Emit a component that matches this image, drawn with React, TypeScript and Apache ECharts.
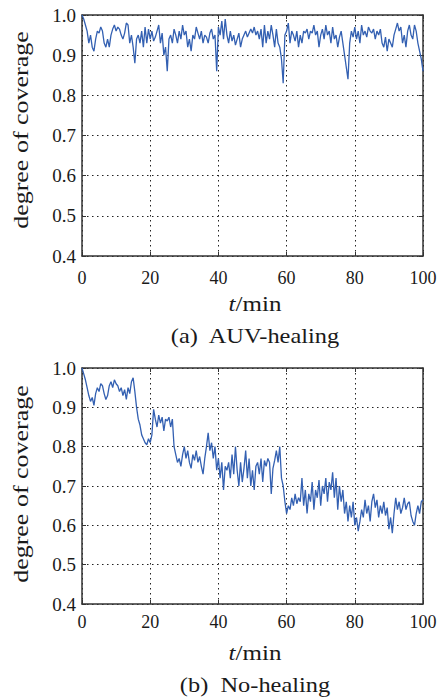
import React, { useEffect, useRef } from "react";
import * as echarts from "echarts";

const xTicks = [0, 20, 40, 60, 80, 100];
const yTicks = [0.4, 0.5, 0.6, 0.7, 0.8, 0.9, 1.0];
const stepMin = 0.5;

const auvHealing = [
  1.0, 0.99, 0.975, 0.96, 0.93, 0.95, 0.92, 0.91, 0.94, 0.96,
  0.955, 0.97, 0.96, 0.93, 0.92, 0.94, 0.92, 0.95, 0.965, 0.975,
  0.96, 0.97, 0.965, 0.95, 0.94, 0.955, 0.98, 0.975, 0.93, 0.95,
  0.92, 0.88, 0.94, 0.95, 0.93, 0.96, 0.92, 0.97, 0.93, 0.965,
  0.94, 0.96, 0.935, 0.945, 0.96, 0.975, 0.93, 0.955, 0.90, 0.92,
  0.86, 0.94, 0.95, 0.93, 0.965, 0.95, 0.93, 0.96, 0.94, 0.975,
  0.95, 0.96, 0.92, 0.94, 0.91, 0.95, 0.94, 0.97, 0.955, 0.94,
  0.96, 0.93, 0.95, 0.945, 0.93, 0.955, 0.965, 0.94, 0.95, 0.86,
  0.97, 0.95, 0.985, 0.94, 0.99, 0.95, 0.93, 0.96, 0.935, 0.95,
  0.925, 0.94, 0.955, 0.92, 0.94, 0.95, 0.96, 0.945, 0.955, 0.965,
  0.955, 0.97, 0.95, 0.96, 0.94, 0.965, 0.92, 0.975, 0.93, 0.96,
  0.94, 0.975, 0.95, 0.92, 0.965, 0.93, 0.92, 0.89, 0.83, 0.95,
  0.96, 0.98, 0.93, 0.96, 0.95, 0.935, 0.96, 0.92, 0.95, 0.93,
  0.96, 0.955, 0.965, 0.94, 0.96, 0.955, 0.975, 0.95, 0.96, 0.92,
  0.95, 0.965, 0.94, 0.975, 0.95, 0.96, 0.93, 0.97, 0.94, 0.95,
  0.92, 0.945, 0.96, 0.93, 0.90, 0.87, 0.84, 0.93, 0.96, 0.945,
  0.97, 0.94, 0.96, 0.93, 0.975, 0.95, 0.96, 0.945, 0.97, 0.96,
  0.955, 0.965, 0.94, 0.96, 0.95, 0.965, 0.93, 0.92, 0.945, 0.91,
  0.94, 0.93, 0.92, 0.95, 0.965, 0.98, 0.96, 0.97, 0.93, 0.95,
  0.92, 0.96, 0.975, 0.95, 0.94, 0.975, 0.96, 0.93, 0.91, 0.89,
  0.86,
];

const noHealing = [
  1.0, 0.985, 0.97, 0.95, 0.93, 0.915, 0.925, 0.905, 0.935, 0.95,
  0.94, 0.96, 0.955, 0.935, 0.92, 0.93, 0.955, 0.965, 0.95, 0.97,
  0.96, 0.955, 0.94, 0.95, 0.93, 0.945, 0.92, 0.95, 0.935, 0.965,
  0.975, 0.94, 0.90, 0.87, 0.855, 0.83, 0.82, 0.81, 0.805, 0.82,
  0.81, 0.83, 0.895, 0.87, 0.85, 0.88, 0.86, 0.875, 0.84, 0.87,
  0.865, 0.875, 0.85, 0.87, 0.80, 0.78, 0.76, 0.77, 0.75, 0.78,
  0.80, 0.77, 0.79, 0.76, 0.745, 0.78, 0.765, 0.79, 0.76, 0.775,
  0.75, 0.73, 0.77, 0.80, 0.835, 0.79, 0.81, 0.77, 0.80, 0.74,
  0.77, 0.72, 0.76, 0.69, 0.75, 0.74, 0.76, 0.72, 0.78, 0.73,
  0.80, 0.74, 0.70, 0.76, 0.71, 0.745, 0.79, 0.72, 0.77, 0.70,
  0.74, 0.69, 0.75, 0.76, 0.73, 0.77, 0.71, 0.765, 0.75, 0.77,
  0.76, 0.68, 0.745, 0.765, 0.79, 0.76, 0.80, 0.72, 0.70, 0.66,
  0.63, 0.65, 0.64, 0.67, 0.65, 0.68, 0.655, 0.67, 0.66, 0.72,
  0.65, 0.69, 0.63, 0.68, 0.66, 0.71, 0.64, 0.69, 0.67, 0.715,
  0.65, 0.70, 0.68, 0.72, 0.66, 0.71, 0.69, 0.735, 0.67, 0.72,
  0.64, 0.70, 0.66, 0.69, 0.63, 0.66, 0.61, 0.65, 0.62, 0.66,
  0.60, 0.62, 0.585, 0.61, 0.64, 0.62, 0.665, 0.63, 0.65, 0.61,
  0.66, 0.68, 0.645, 0.665, 0.62, 0.65, 0.63, 0.66, 0.625, 0.645,
  0.59, 0.62, 0.58, 0.63, 0.67, 0.64, 0.66, 0.63, 0.645, 0.67,
  0.64, 0.655, 0.66, 0.625, 0.61, 0.60, 0.63, 0.65, 0.63, 0.66,
  0.665,
];

const panelTitles = ["(a)  AUV-healing", "(b)  No-healing"];
const yName = "degree of coverage";

const FONT = "serif";
const LINE_COLOR = "#3360b2";
const FRAME = "#333";

export default function App() {
  const ref = useRef<HTMLDivElement>(null);
  useEffect(() => {
    if (!ref.current) return;
    const chart = echarts.init(ref.current, undefined, { renderer: "svg" });

    const grids = [
      { left: 82, right: 19, top: 15, height: 241 },
      { left: 82, right: 19, top: 368, height: 236 },
    ];
    const labelMargins = [13, 9];

    const xAxes: any[] = [];
    const yAxes: any[] = [];
    grids.forEach((_, g) => {
      const base = {
        gridIndex: g,
        type: "value",
        min: 0,
        max: 100,
        interval: 20,
        axisLine: { show: true, onZero: false, lineStyle: { color: FRAME, width: 1.5 } },
        axisTick: { show: true, inside: true, length: 4, lineStyle: { color: FRAME } },
      };
      xAxes.push({
        ...base,
        position: "bottom",
        axisLabel: {
          show: true,
          margin: labelMargins[g],
          fontFamily: FONT,
          fontSize: 18,
          color: "#1a1a1a",
          formatter: (v: number) => (xTicks.includes(v) ? String(v) : ""),
        },
        splitLine: {
          show: true,
          lineStyle: { color: "#222", type: [1.5, 3.5], width: 1 },
        },
      });
      xAxes.push({
        ...base,
        position: "top",
        axisLabel: { show: false },
        splitLine: { show: false },
      });
      const ybase = {
        gridIndex: g,
        type: "value",
        min: 0.4,
        max: 1.0,
        interval: 0.1,
        axisLine: { show: true, onZero: false, lineStyle: { color: FRAME, width: 1.5 } },
        axisTick: { show: true, inside: true, length: 4, lineStyle: { color: FRAME } },
      };
      yAxes.push({
        ...ybase,
        position: "left",
        axisLabel: {
          show: true,
          margin: 6,
          fontFamily: FONT,
          fontSize: 19,
          color: "#1a1a1a",
          formatter: (v: number) => {
            const t = yTicks.find((y) => Math.abs(y - v) < 1e-6);
            return t !== undefined ? t.toFixed(1) : "";
          },
        },
        splitLine: {
          show: true,
          lineStyle: { color: "#222", type: [1.5, 3.5], width: 1 },
        },
      });
      yAxes.push({
        ...ybase,
        position: "right",
        axisLabel: { show: false },
        splitLine: { show: false },
      });
    });

    const toPairs = (arr: number[]) => arr.map((v, i) => [i * stepMin, v]);

    const textBase = {
      fontFamily: FONT,
      fontSize: 20,
      fill: "#1a1a1a",
      align: "center",
      verticalAlign: "middle",
    };

    const tminText = (y: number) => ({
      type: "text",
      x: 255,
      y,
      scaleX: 1.25,
      style: {
        ...textBase,
        text: "{i|t}/min",
        rich: {
          i: { fontFamily: FONT, fontSize: 20, fontStyle: "italic", fill: "#1a1a1a" },
        },
      },
    });

    const yNameText = (y: number) => ({
      type: "text",
      x: 21,
      y,
      rotation: Math.PI / 2,
      scaleX: 1.3,
      style: { ...textBase, text: yName },
    });

    const titleText = (y: number, t: string) => ({
      type: "text",
      x: 255,
      y,
      scaleX: 1.22,
      style: { ...textBase, text: t },
    });

    chart.setOption({
      animation: false,
      backgroundColor: "#fff",
      grid: grids,
      xAxis: xAxes,
      yAxis: yAxes,
      series: [
        {
          type: "line",
          xAxisIndex: 0,
          yAxisIndex: 0,
          data: toPairs(auvHealing),
          showSymbol: false,
          lineStyle: { color: LINE_COLOR, width: 1.3 },
        },
        {
          type: "line",
          xAxisIndex: 2,
          yAxisIndex: 2,
          data: toPairs(noHealing),
          showSymbol: false,
          lineStyle: { color: LINE_COLOR, width: 1.3 },
        },
      ],
      graphic: [
        tminText(304),
        tminText(653),
        yNameText(130),
        yNameText(484),
        titleText(336, panelTitles[0]),
        titleText(685, panelTitles[1]),
      ],
    });
    return () => chart.dispose();
  }, []);

  return (
    <div
      ref={ref}
      style={{ position: "fixed", left: 0, top: 0, width: 442, height: 700, background: "#fff" }}
    />
  );
}
